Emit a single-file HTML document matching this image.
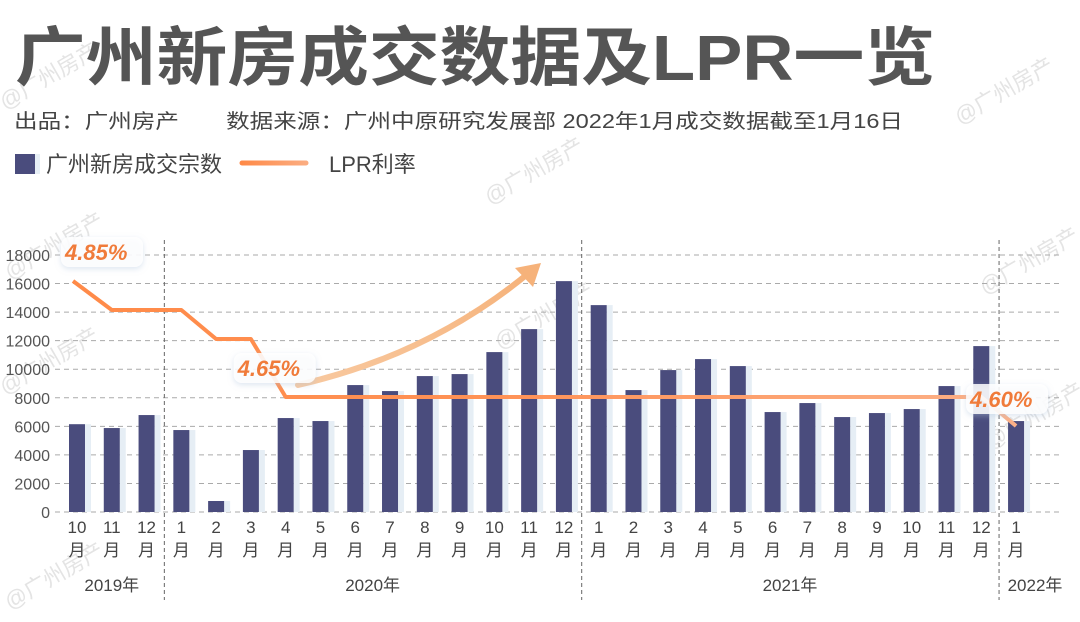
<!DOCTYPE html>
<html><head><meta charset="utf-8">
<style>
body{margin:0;width:1080px;height:617px;overflow:hidden;background:#fff;font-family:"Liberation Sans","Noto Sans CJK SC",sans-serif;}
</style></head>
<body>
<svg id="chart" width="1080" height="617" xmlns="http://www.w3.org/2000/svg" style="font-family:'Liberation Sans','Noto Sans CJK SC',sans-serif">
<defs>
<linearGradient id="lprGrad" gradientUnits="userSpaceOnUse" x1="60" x2="1030" y1="0" y2="0"><stop offset="0" stop-color="#ff8a48"/><stop offset="0.45" stop-color="#ff9256"/><stop offset="1" stop-color="#fbb189"/></linearGradient>
<linearGradient id="legGrad" gradientUnits="userSpaceOnUse" x1="242" x2="306" y1="0" y2="0"><stop offset="0" stop-color="#ff8a48"/><stop offset="1" stop-color="#fbac80"/></linearGradient>
<linearGradient id="arrowGrad" x1="0" x2="1" y1="1" y2="0"><stop offset="0" stop-color="#f8c9a0"/><stop offset="1" stop-color="#f6b27a"/></linearGradient>
<filter id="sh" x="-20%" y="-40%" width="140%" height="180%"><feDropShadow dx="0" dy="2" stdDeviation="3" flood-color="#b0c4de" flood-opacity="0.5"/></filter>
</defs>
<g id="watermarks" fill="#e4e4e4" font-size="22">
<text transform="translate(5,110) rotate(-30)">@广州房产</text>
<text transform="translate(960,125) rotate(-30)">@广州房产</text>
<text transform="translate(490,205) rotate(-30)">@广州房产</text>
<text transform="translate(10,280) rotate(-30)">@广州房产</text>
<text transform="translate(985,295) rotate(-30)">@广州房产</text>
<text transform="translate(5,395) rotate(-30)">@广州房产</text>
<text transform="translate(500,350) rotate(-30)">@广州房产</text>
<text transform="translate(990,450) rotate(-30)">@广州房产</text>
<text transform="translate(10,610) rotate(-30)">@广州房产</text>
</g>
<text x="15" y="80" font-size="64" font-weight="bold" fill="#555" textLength="920" lengthAdjust="spacingAndGlyphs">广州新房成交数据及LPR一览</text>
<text x="14" y="128" font-size="20" fill="#444" textLength="889" lengthAdjust="spacingAndGlyphs">出品：广州房产　　数据来源：广州中原研究发展部  2022年1月成交数据截至1月16日</text>
<g>
<rect x="15" y="154" width="20" height="20" fill="#4a4c7d"/>
<rect x="35" y="154" width="5" height="20" fill="#e6eef5"/>
<text x="46" y="172" font-size="22" fill="#444">广州新房成交宗数</text>
<line x1="242" y1="163" x2="306" y2="163" stroke="url(#legGrad)" stroke-width="5" stroke-linecap="round"/>
<text x="329" y="172" font-size="22" fill="#444">LPR利率</text>
</g>
<g id="grid"></g><g id="bars"></g><g id="xlabels"></g>
<path d="M298,385 Q430,355 530,272" fill="none" stroke="url(#arrowGrad)" stroke-width="6" stroke-linecap="round"/>
<path d="M541,263 L515,268 L533,287 Z" fill="#f6b27a"/>
<g id="lpr"></g>
<g id="annot"></g>
</svg>
<script>
const months=["10","11","12","1","2","3","4","5","6","7","8","9","10","11","12","1","2","3","4","5","6","7","8","9","10","11","12","1"];
const deals=[6150,5880,6790,5740,770,4340,6580,6370,8890,8470,9520,9660,11200,12810,16170,14490,8540,9940,10710,10220,7000,7630,6650,6930,7210,8820,11620,6370];
const lprRates=[4.85,4.80,4.80,4.80,4.75,4.75,4.65,4.65,4.65,4.65,4.65,4.65,4.65,4.65,4.65,4.65,4.65,4.65,4.65,4.65,4.65,4.65,4.65,4.65,4.65,4.65,4.65,4.60];
const yTicks=[0,2000,4000,6000,8000,10000,12000,14000,16000,18000];
const years=["2019年","2020年","2021年","2022年"];
const yearStartIdx=[0,3,15,27];
const annotations=[{i:0,t:"4.85%"},{i:6,t:"4.65%"},{i:27,t:"4.60%"}];
const NS="http://www.w3.org/2000/svg";
const y0=512,yScale=257/18000;
const yPos=v=>y0-v*yScale;
const xLeft=i=>69+i*34.78;
const lprY=r=>281+(4.85-r)*580;
function mk(tag,attrs,parent,txt){const e=document.createElementNS(NS,tag);for(const k in attrs)e.setAttribute(k,attrs[k]);if(txt!==undefined)e.textContent=txt;parent.appendChild(e);return e;}
const grid=document.getElementById('grid');
yTicks.forEach(v=>{
 const l=mk('line',{x1:55,x2:1062,y1:yPos(v),y2:yPos(v),stroke:'#aaa','stroke-dasharray':'5,4','stroke-width':1},grid);
 
 
 const t=mk('text',{x:50,y:yPos(v)+6,'text-anchor':'end','font-size':16,fill:'#555'},grid,String(v));
 
 
});
const xl=document.getElementById('xlabels');
yearStartIdx.slice(1).forEach(i=>{
 const x=xLeft(i)-9;
 const l=mk('line',{x1:x,x2:x,y1:240,y2:600,stroke:'#666','stroke-dasharray':'4,3','stroke-width':1},grid);
 
 
});
const bars=document.getElementById('bars');
deals.forEach((v,i)=>{
 const x=xLeft(i);
 mk('rect',{x:x+16,y:yPos(v),width:6,height:y0-yPos(v),fill:'#e6eef5'},bars);
 const r=mk('rect',{x:x,y:yPos(v),width:16,height:y0-yPos(v),fill:'#4a4c7d'},bars);
 
 
 const t=mk('text',{x:x+8,y:533,'text-anchor':'middle','font-size':17,fill:'#444'},xl,months[i]);
 
 
 mk('text',{x:x+8,y:556,'text-anchor':'middle','font-size':17,fill:'#444'},xl,'月');
});
years.forEach((y,k)=>{
 const s=yearStartIdx[k],e=(k+1<yearStartIdx.length?yearStartIdx[k+1]:deals.length)-1;
 let cx=(xLeft(s)+xLeft(e)+16)/2; if(k==3)cx=1035;
 const t=mk('text',{x:cx,y:591,'text-anchor':'middle','font-size':17,fill:'#444'},xl,y);
 
 
});
const lpr=document.getElementById('lpr');
const pts=lprRates.map((r,i)=>[xLeft(i)+(i==0?4:8),lprY(r)]);
const p=mk('polyline',{points:pts.map(q=>q.join(',')).join(' '),fill:'none',stroke:'url(#lprGrad)','stroke-width':4,'stroke-linejoin':'round'},lpr);


const an=document.getElementById('annot');
annotations.forEach(a=>{
 const [px,py]=pts[a.i];
 let bx=px-12,by=py-44; if(a.i==6){bx=px-52;by=py-44;} if(a.i==27){bx=px-50;by=py-42;}
 const g=mk('g',{},an);
 
 
 mk('rect',{x:bx,y:by,width:82,height:30,rx:8,fill:'#fff','fill-opacity':0.85,filter:'url(#sh)'},g);
 mk('text',{x:bx+4,y:by+23,'font-size':22,'font-weight':'bold','font-style':'italic',fill:'#f07b3a'},g,a.t);
});
</script>
</body></html>
